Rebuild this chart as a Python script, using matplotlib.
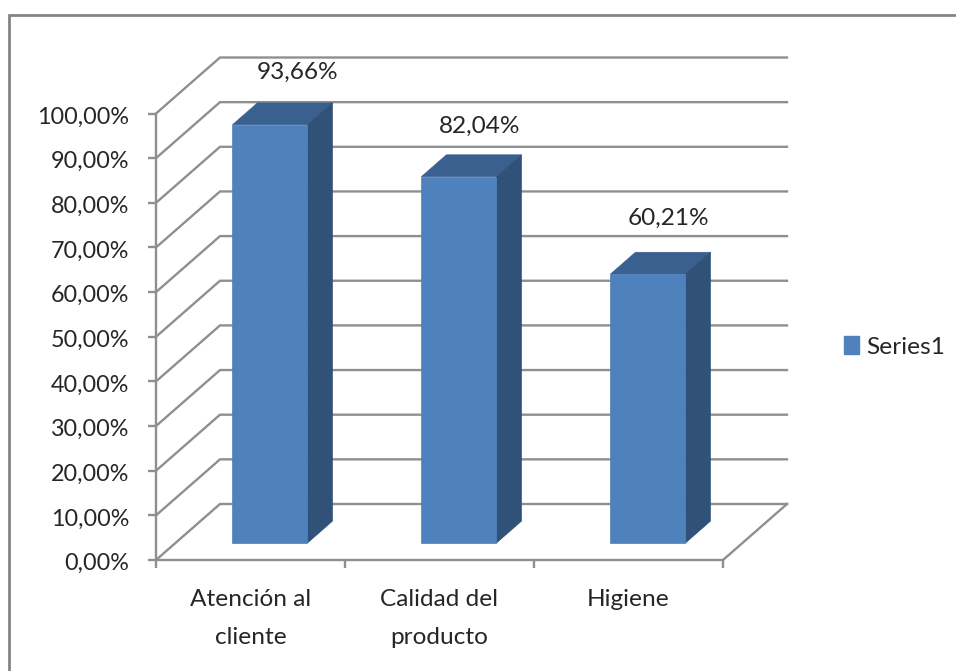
import matplotlib
matplotlib.use("Agg")
import matplotlib.pyplot as plt
from matplotlib.patches import Polygon, Rectangle
from matplotlib.transforms import ScaledTranslation

categories = ["Atención al\ncliente", "Calidad del\nproducto", "Higiene"]
values = [93.66, 82.04, 60.21]
value_labels = ["93,66%", "82,04%", "60,21%"]
ticks = [0, 10, 20, 30, 40, 50, 60, 70, 80, 90, 100]
tick_labels = ["0,00%", "10,00%", "20,00%", "30,00%", "40,00%", "50,00%",
               "60,00%", "70,00%", "80,00%", "90,00%", "100,00%"]
series_name = "Series1"

W, H = 956, 671
GRID = "#8f8f8f"
FRONT = "#4f81bd"
TOP = "#3a6090"
SIDE = "#315278"
TEXT = "#262626"
FONT = ["Lato", "DejaVu Sans"]
FS = 17.6
FS_TICK = 16.8
PX = 0.72  # points per pixel at 100 dpi

plt.rcParams["font.family"] = FONT

fig = plt.figure(figsize=(W / 100, H / 100), dpi=100, facecolor="white")

# The axes rectangle is the front plane of the oblique 3D box.
left, right, top, bottom = 156, 723, 113.5, 560
ax = fig.add_axes([left / W, 1 - bottom / H, (right - left) / W, (bottom - top) / H])
ax.set_xlim(0, 3)
ax.set_ylim(0, 100)
ax.patch.set_visible(False)

# Shear of one full unit of depth, in data units.
DX = 64 / ((right - left) / 3)
DY = 56 / ((bottom - top) / 100)


def proj(x, y, d=0.0):
    return x + d * DX, y + d * DY


def nudge(label, dx_px, dy_px):
    label.set_transform(label.get_transform()
                        + ScaledTranslation(dx_px / 100, dy_px / 100, fig.dpi_scale_trans))


# Back wall gridlines and the side wall diagonals
for t in ticks:
    x0, y0 = proj(0, t)
    x1, y1 = proj(0, t, 1)
    x2, y2 = proj(3, t, 1)
    ax.plot([x0, x1, x2], [y0, y1, y2], color=GRID, lw=1.7, clip_on=False,
            solid_joinstyle="miter", zorder=1)

# Floor outline on the right
x0, y0 = proj(3, 0)
x1, y1 = proj(3, 0, 1)
ax.plot([x0, x1], [y0, y1], color=GRID, lw=1.7, clip_on=False, zorder=1)

# Oblique bars: front, top and side faces
half = (308 - 233) / 2 / ((right - left) / 3)
d0 = 17 / 56
d1 = d0 + 25 / 64
label_shift = [(2.5, 31), (-4.5, 28), (-4.5, 34)]  # pixels from the back top edge
for i, v in enumerate(values):
    c = i + 0.5
    xl, xr = c - half, c + half
    a = proj(xl, 0, d0)
    b = proj(xr, 0, d0)
    tl = proj(xl, v, d0)
    tr = proj(xr, v, d0)
    btl = proj(xl, v, d1)
    btr = proj(xr, v, d1)
    bb = proj(xr, 0, d1)
    ax.add_patch(Polygon([tl, tr, btr, btl], fc=TOP, ec=TOP, lw=0.5, clip_on=False, zorder=3))
    ax.add_patch(Polygon([b, tr, btr, bb], fc=SIDE, ec=SIDE, lw=0.5, clip_on=False, zorder=3))
    ax.add_patch(Polygon([a, b, tr, tl], fc=FRONT, ec=FRONT, lw=0.5, clip_on=False, zorder=4))
    lx, ly = proj(c, v, d1)
    ax.annotate(value_labels[i], (lx, ly),
                xytext=(label_shift[i][0] * PX, label_shift[i][1] * PX),
                textcoords="offset points", ha="center", va="center",
                fontsize=FS, color=TEXT, zorder=5, annotation_clip=False)

# Axes, ticks and labels
for s in ("top", "right"):
    ax.spines[s].set_visible(False)
for s in ("left", "bottom"):
    ax.spines[s].set_color(GRID)
    ax.spines[s].set_linewidth(1.7)
    ax.spines[s].set_zorder(2)
ax.set_yticks(ticks, tick_labels)
ax.set_xticks([0, 1, 2, 3], [])
ax.set_xticks([0.5, 1.5, 2.5], categories, minor=True)
ax.tick_params(axis="y", length=6, width=1.7, color=GRID, labelsize=FS_TICK, labelcolor=TEXT, pad=13)
ax.tick_params(axis="x", which="major", length=6, width=1.7, color=GRID)
ax.tick_params(axis="x", which="minor", length=0, labelsize=FS, labelcolor=TEXT, pad=21)
for lab in ax.get_xticklabels(minor=True):
    lab.set_linespacing(2.0)
for lab in ax.get_yticklabels():
    nudge(lab, 0, -1.5)

# Legend
ax.legend([Rectangle((0, 0), 1, 1, fc=FRONT, ec=FRONT)], [series_name],
          loc="center left", bbox_to_anchor=(844 / W, 1 - 347 / H),
          bbox_transform=fig.transFigure, frameon=False, fontsize=FS,
          labelcolor=TEXT, handlelength=0.62, handleheight=0.74, handletextpad=0.29,
          borderpad=0, borderaxespad=0)

# Chart frame, open past the lower and right picture edges
fig.add_artist(plt.Line2D([9 / W, 9 / W, 1], [0, 1 - 15 / H, 1 - 15 / H],
                          color="#858585", lw=2, solid_joinstyle="miter"))

fig.savefig("out.png", dpi=100)
